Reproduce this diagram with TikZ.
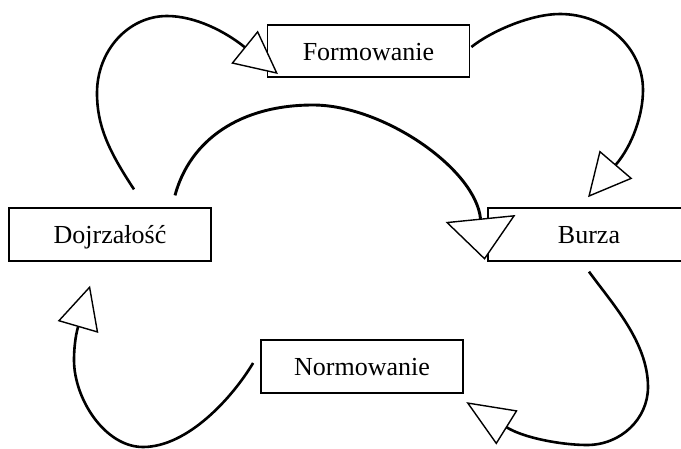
\documentclass[tikz,border=0pt]{standalone}
\usepackage{fontspec}
\setmainfont{Liberation Serif}
\usetikzlibrary{arrows.meta,calc}
\begin{document}
\begin{tikzpicture}[x=1pt,y=-1pt,
  box/.style={draw, line width=1.8pt, minimum width=202pt, minimum height=52.5pt,
    inner sep=0pt, text height=18.5pt, text depth=0pt,
    font=\fontsize{26}{30}\selectfont},
  flow/.style={line width=2.6pt},
  head/.style 2 args={-{Triangle[open,fill=white,length=#1,width=#2,line width=1.4pt]},
    shorten >=-#1}]
\useasboundingbox (0,0) rectangle (681,448);
% boxes
\node[box] (form)  at (368.5,51)  {Formowanie};
\node[box] (dojr)  at (110,234.5) {Dojrzałość};
\node[box] (burza) at (589,234.5) {Burza};
\node[box] (norm)  at (362,366.5) {Normowanie};
% arrow bases
\coordinate (b1) at (244.5,47);
\coordinate (b2) at (616,164.5);
\coordinate (b3) at (480.5,218.5);
\coordinate (b4) at (507,427.5);
\coordinate (b5) at (78,327);
% Dojrzalosc -> Formowanie
\draw[flow, head={43pt}{42pt}] ($(dojr.north)+(24,-18)$)
  .. controls (108,150) and (97,125) .. (97,93)
  .. controls (97,50.5) and (128.4,16) .. (167,16)
  .. controls (195,16) and (225,31.25) .. (b1);
% Formowanie -> Burza
\draw[flow, head={43pt}{43pt}] ($(form.east)+(1,-4)$)
  .. controls (490,32) and (530,14) .. (560,14)
  .. controls (605.8,14) and (643,48) .. (643,90)
  .. controls (643,115) and (632.25,145.5) .. (b2);
% Dojrzalosc -> Burza
\draw[flow, line width=2.9pt, head={41.5pt}{70pt}] ($(dojr.north)+(65,-12)$)
  .. controls (190,140) and (240,105) .. (313,105)
  .. controls (383,105) and (475.5,168.75) .. (b3);
% Burza -> Normowanie
\draw[flow, head={48pt}{40pt}] ($(burza.south)+(0,10)$)
  .. controls (612,303.4) and (648,342) .. (648,387)
  .. controls (648,419) and (620.7,445) .. (587,445)
  .. controls (562,445) and (524,438.1) .. (b4);
% Normowanie -> Dojrzalosc
\draw[flow, head={43pt}{42pt}] ($(norm.west)+(-7,-3.5)$)
  .. controls (232.8,397) and (188,447) .. (143,447)
  .. controls (105,447) and (74,399) .. (74,360)
  .. controls (74,350) and (75.2,336.6) .. (b5);
\end{tikzpicture}
\end{document}
